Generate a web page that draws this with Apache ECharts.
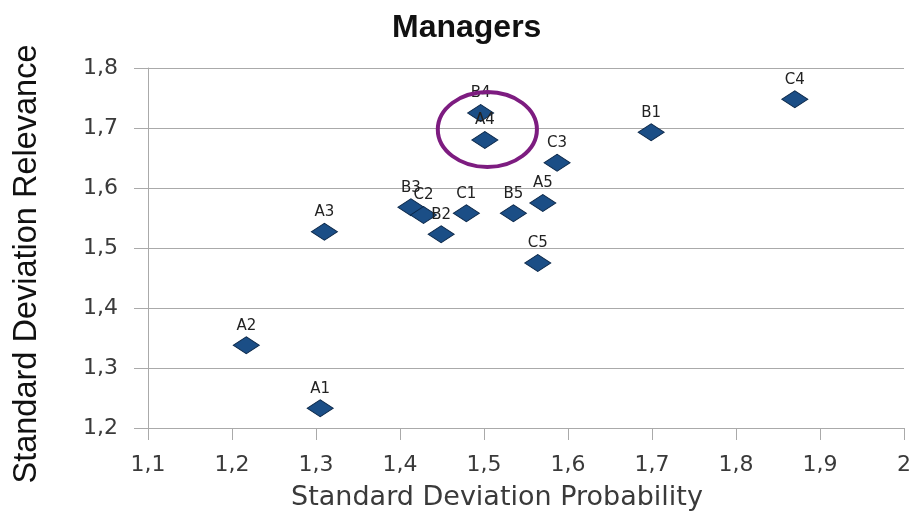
<!DOCTYPE html>
<html><head><meta charset="utf-8">
<script src="https://cdn.jsdelivr.net/npm/echarts@6/dist/echarts.min.js"></script>
<style>html,body{margin:0;padding:0;background:#fff}#c{width:911px;height:511px}</style>
</head><body><div id="c"></div>
<script>
const labels = ['A1','A2','A3','B3','C2','B2','C1','B5','A5','C5','C3','B4','A4','B1','C4'];
const probability = [1.305,1.217,1.31,1.413,1.428,1.449,1.479,1.535,1.570,1.564,1.587,1.496,1.501,1.699,1.870];
const relevance  = [1.233,1.338,1.527,1.568,1.555,1.523,1.558,1.558,1.575,1.475,1.642,1.725,1.680,1.693,1.748];
const xTicks = [1.1,1.2,1.3,1.4,1.5,1.6,1.7,1.8,1.9,2.0];
const yTicks = [1.2,1.3,1.4,1.5,1.6,1.7,1.8];
const highlight = {center:[1.504,1.6975], radius:[0.059,0.0625]};

const chart = echarts.init(document.getElementById('c'));
const fmt = v => String(Math.round(v*10)/10).replace('.', ',');
chart.setOption({
  animation:false,
  title:{text:'Managers', left:387, top:7, textStyle:{fontFamily:'Liberation Sans, Arial', fontSize:32, fontWeight:'bold', color:'#111'}},
  grid:{left:148, right:7, top:68, bottom:83, containLabel:false, outerBoundsMode:'none'},
  xAxis:{type:'value', min:xTicks[0], max:xTicks[xTicks.length-1], interval:0.1,
    name:'Standard Deviation Probability', nameLocation:'middle', nameGap:56,
    nameTextStyle:{fontFamily:'DejaVu Sans', fontSize:27, color:'#3a3a3a', padding:[0,58,0,0]},
    axisLine:{show:true, lineStyle:{color:'#aaa'}}, axisTick:{show:true, length:12, lineStyle:{color:'#aaa'}},
    axisLabel:{margin:26, fontFamily:'DejaVu Sans', fontSize:22, color:'#3a3a3a', formatter:fmt, showMaxLabel:true},
    splitLine:{show:false}},
  yAxis:{type:'value', min:yTicks[0], max:yTicks[yTicks.length-1], interval:0.1,
    name:'Standard Deviation Relevance', nameLocation:'middle', nameGap:104,
    nameTextStyle:{fontFamily:'Liberation Sans, Arial', fontSize:32.5, color:'#111', padding:[0,32,0,0]},
    axisLine:{show:true, lineStyle:{color:'#aaa'}}, axisTick:{show:true, length:14, lineStyle:{color:'#aaa'}},
    axisLabel:{margin:30, fontFamily:'DejaVu Sans', fontSize:22, color:'#3a3a3a', formatter:fmt},
    splitLine:{show:true, lineStyle:{color:'#aaa', width:1}}},
  series:[{type:'scatter', symbol:'diamond', symbolSize:[26,17],
    data: probability.map((x,i)=>({value:[x, relevance[i]], name:labels[i]})),
    itemStyle:{color:'#1b4e86', borderColor:'#0b2748', borderWidth:1, opacity:1},
    label:{show:true, position:'top', distance:3, formatter:p=>p.name, fontFamily:'DejaVu Sans', fontSize:15, color:'#222'}}]
});
const c = chart.convertToPixel({gridIndex:0}, highlight.center);
const e = chart.convertToPixel({gridIndex:0}, [highlight.center[0]+highlight.radius[0], highlight.center[1]+highlight.radius[1]]);
chart.setOption({graphic:[{type:'ellipse', shape:{cx:c[0], cy:c[1], rx:Math.abs(e[0]-c[0]), ry:Math.abs(e[1]-c[1])},
  style:{fill:'none', stroke:'#7d1c80', lineWidth:4}, z:100}]});
</script></body></html>
